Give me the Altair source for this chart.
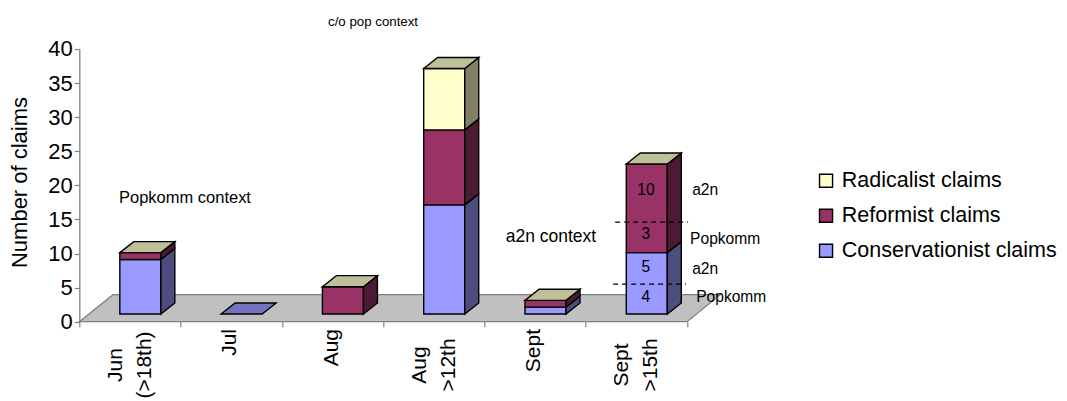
import altair as alt
import pandas as pd

categories = ["Jun\n(>18th)", "Jul", "Aug", "Aug\n>12th", "Sept", "Sept\n>15th"]
conservationist = [8, 0, 0, 16, 1, 9]
reformist = [1, 0, 4, 11, 1, 13]
radicalist = [0, 0, 0, 9, 0, 0]

series_names = ["Conservationist claims", "Reformist claims", "Radicalist claims"]
series_values = [conservationist, reformist, radicalist]

FONT = "Liberation Sans"
BIG = 22
SMALL = 15.6

# chart-space geometry, in axis units
X_MAX = 6.328
LEFT, BAR_W, DX = 0.40, 0.405, 0.138
BASE, DY = 1.13, 1.62

side = {"Conservationist claims": "side-c", "Reformist claims": "side-r", "Radicalist claims": "side-y"}
rows = []


def poly(pid, face, pts):
    for x, lo, hi in pts:
        rows.append({"id": pid, "face": face, "x": x, "lo": lo, "hi": hi})


for i, _ in enumerate(categories):
    x0 = i + LEFT
    x1 = x0 + BAR_W
    level = BASE
    for name, vals in zip(series_names, series_values):
        v = vals[i]
        if v == 0:
            continue
        poly(f"f{i}{name}", name, [(x0, level, level + v), (x1, level, level + v)])
        poly(f"s{i}{name}", side[name], [(x1, level, level + v), (x1 + DX, level + DY, level + v + DY)])
        level += v
    face = "top" if level > BASE else "top-c"
    poly(f"t{i}", face, [(x0, level, level), (x0 + DX, level, level + DY),
                         (x1, level, level + DY), (x1 + DX, level + DY, level + DY)])

faces = pd.DataFrame(rows)

domain = series_names + ["side-c", "side-r", "side-y", "top", "top-c"]
colours = ["#9999FF", "#993366", "#FFFFCC", "#4D4D80", "#4D1A33", "#808066", "#BFBF99", "#7373BF"]

x_scale = alt.Scale(domain=[0, X_MAX], nice=False, zero=False)
y_scale = alt.Scale(domain=[0, 40], nice=False, zero=False)
x_axis = alt.Axis(
    values=list(range(7)), labels=False, domain=False, grid=False, title=None,
    tickColor="#808080", tickSize=5, tickWidth=1.2)
y_axis = alt.Axis(
    values=list(range(0, 41, 5)), grid=False, domainColor="#808080", domainWidth=1.3,
    title="Number of claims", titleY=133,
    tickColor="#808080", tickSize=5, tickWidth=1.2, labelFontSize=BIG, labelFont=FONT,
    labelColor="black", labelPadding=2, titleFontSize=BIG, titleFont=FONT,
    titleFontWeight="normal", titleColor="black", titlePadding=16)
X = lambda f="x": alt.X(f"{f}:Q", scale=x_scale, axis=x_axis)
Y = lambda f="y": alt.Y(f"{f}:Q", scale=y_scale, axis=y_axis)

floor_df = pd.DataFrame({
    "x": [0, 0.333, 6.0, 6.328],
    "lo": [0, 0, 0, 3.96],
    "hi": [0, 3.96, 3.96, 3.96],
})
floor = alt.Chart(floor_df).mark_area(
    color="#C0C0C0", stroke="#808080", strokeWidth=1.3, orient="vertical"
).encode(x=X(), y=Y("hi"), y2="lo:Q")

bars = alt.Chart(faces).mark_area(stroke="black", strokeWidth=1.4, orient="vertical").encode(
    x=X(),
    y=Y("hi"),
    y2="lo:Q",
    detail="id:N",
    fill=alt.Fill("face:N", scale=alt.Scale(domain=domain, range=colours), legend=alt.Legend(
        values=["Radicalist claims", "Reformist claims", "Conservationist claims"],
        title=None, orient="none", legendX=736, legendY=121, symbolType="square",
        symbolSize=170, symbolStrokeColor="black", symbolStrokeWidth=1.4,
        labelFontSize=21.5, labelFont=FONT, labelColor="black", labelLimit=300,
        rowPadding=12, labelOffset=5)),
)

dash_df = pd.DataFrame({"x": [5.29, 5.27], "x2": [6.01, 5.99], "y": [14.6, 5.5]})
dashes = alt.Chart(dash_df).mark_rule(color="black", strokeWidth=1.3, strokeDash=[5, 4]).encode(
    x=X(), x2="x2:Q", y=Y()
)

note_text = ["c/o pop context", "Popkomm context", "a2n context", "a2n", "Popkomm", "a2n", "Popkomm"]
note_x = [2.455, 0.392, 4.21, 6.05, 6.03, 6.05, 6.09]
note_y = [43.95, 18.1, 12.4, 19.3, 12.1, 7.7, 3.6]
note_size = [13.3, 16.5, 17.5, SMALL, SMALL, SMALL, SMALL]
notes = alt.Chart(pd.DataFrame({"t": note_text, "x": note_x, "y": note_y, "s": note_size})).mark_text(
    align="left", baseline="middle", font=FONT, color="black"
).encode(x=X(), y=Y(), text="t:N", size=alt.Size("s:Q", scale=None))

count_text = ["10", "3", "5", "4"]
count_y = [19.3, 12.9, 8.0, 3.6]
counts = alt.Chart(pd.DataFrame({"t": count_text, "x": [5.594] * 4, "y": count_y})).mark_text(
    align="center", baseline="middle", font=FONT, fontSize=SMALL, color="black"
).encode(x=X(), y=Y(), text="t:N")

cat_df = pd.DataFrame({"t": categories, "x": [i + 0.49 for i in range(6)]})
single = alt.Chart(cat_df[~cat_df.t.str.contains("\n")]).mark_text(
    angle=270, align="right", baseline="middle", font=FONT, fontSize=BIG - 1, color="black"
).encode(x=X(), y=alt.value(280), text="t:N")
double_df = cat_df[cat_df.t.str.contains("\n")].assign(x=lambda d: d.x - 0.13)
double = alt.Chart(double_df).mark_text(
    angle=270, align="center", baseline="middle", font=FONT, fontSize=BIG - 1, color="black",
    lineBreak="\n", lineHeight=29
).encode(x=X(), y=alt.value(316), text="t:N")

chart = alt.layer(floor, bars, dashes, notes, counts, single, double).properties(
    width=641, height=272.7,
    autosize=alt.AutoSizeParams(type="none"),
    padding={"left": 71.3, "top": 41, "right": 338, "bottom": 78},
).configure_view(stroke=None)

chart.save("out.html", embed_options={"renderer": "svg", "actions": False})
